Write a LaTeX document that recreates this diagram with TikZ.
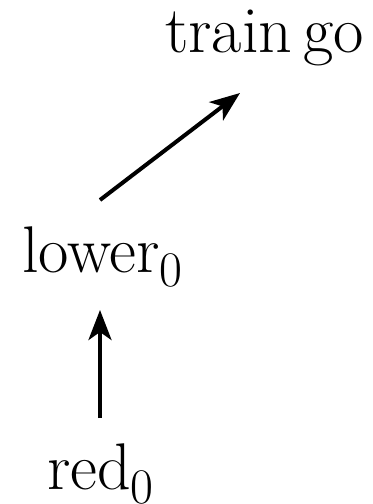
\documentclass[tikz,border=0pt]{standalone}
\usetikzlibrary{arrows.meta}
\begin{document}
\begin{tikzpicture}[x=0.5pt,y=-0.5pt,
  lbl/.style={inner sep=0pt,outer sep=0pt,font=\fontsize{33}{40}\selectfont},
  arr/.style={line width=2pt,-{Stealth[length=15pt,width=11.5pt,inset=4pt]}}]
\useasboundingbox (0,0) rectangle (372,504);
\node[lbl,anchor=base west] (train) at (165,52) {train\,go};
\node[lbl,anchor=base west] (lower) at (22,272) {lower$_0$};
\node[lbl,anchor=base west] (red) at (47,489) {red$_0$};
\coordinate (a1s) at (100,200);
\coordinate (a1e) at (240,93);
\coordinate (a2s) at (100,418);
\coordinate (a2e) at (100,310);
\draw[arr] (a1s) -- (a1e);
\draw[arr] (a2s) -- (a2e);
\end{tikzpicture}
\end{document}
